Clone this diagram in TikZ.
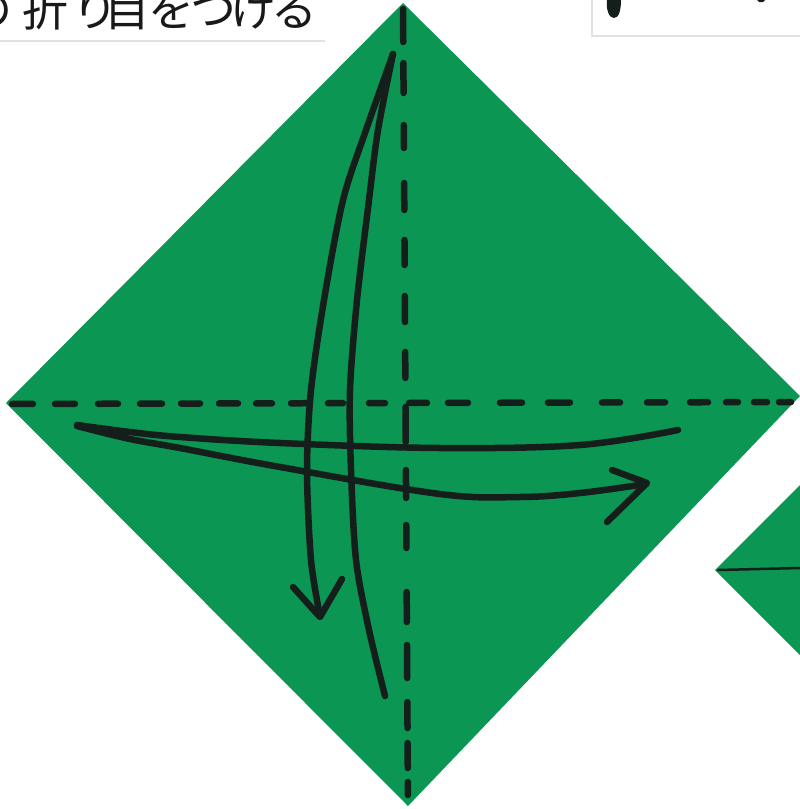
\documentclass[tikz,border=0pt]{standalone}
\usepackage{fontspec}
\newfontfamily\jp{Noto Sans CJK JP}
\definecolor{paper}{RGB}{12,150,84}
\definecolor{ink}{RGB}{20,30,26}
\definecolor{slip}{RGB}{225,225,225}
\tikzset{
  inkstroke/.style={draw=ink, line width=6.5pt, line cap=round, line join=round},
  fold/.style={draw=ink, line width=6.5pt, line cap=round},
  jchar/.style={font=\jp\fontsize{46}{46}\selectfont, text=black!90, anchor=base, inner sep=0pt},
}
\begin{document}
\begin{tikzpicture}[x=1pt,y=-1pt]
\useasboundingbox (0,0) rectangle (800,809);
\clip (0,0) rectangle (800,809);
\fill[white] (0,0) rectangle (800,809);
% paper slips
\draw[slip, line width=1.2pt] (0,41) -- (325,41);
\draw[slip, line width=1.2pt] (592,0) -- (592,36) -- (800,36);
\fill[ink] (607,0) .. controls (606,10) and (609,18) .. (614,18) .. controls (619,18) and (621,10) .. (621,0) -- cycle;
\fill[ink] (757,0) -- (765,0) -- (763,2) -- (759,2) -- cycle;
% heading text
\node[jchar] (c0) at (-10,26) {の};
\node[jchar] (c1) at (45,26) {折};
\node[jchar] (c2) at (95,26) {り};
\node[jchar] (c3) at (127,26) {目};
\node[jchar] (c4) at (171,26) {を};
\node[jchar] (c5) at (213,26) {つ};
\node[jchar] (c6) at (253,26) {け};
\node[jchar] (c7) at (294,26) {る};
% small diamond bottom right
\fill[paper] (715,570) -- (820,465) -- (880,570) -- (820,675) -- cycle;
\draw[draw=ink, line width=2.5pt, line cap=round] (718,570) -- (800,568);
% main diamond
\coordinate (T) at (403,3);
\coordinate (R) at (800,396);
\coordinate (B) at (408,806);
\coordinate (L) at (6,403);
\fill[paper] (T) -- (R) -- (B) -- (L) -- cycle;
% vertical dashed fold
\foreach \a/\b in {9/42,63/93,125/148,183/210,240/265,296/322,352/378,407/442,470/498,525/548,592/622,645/678,702/728,743/768,782/795}
  \draw[fold] ({403+5*\a/806},\a) -- ({403+5*\b/806},\b);
% horizontal dashed fold
\foreach \a/\b in {12/33,55/75,98/118,140/162,181/200,219/238,256/272,291/308,328/343,369/385,409/427,448/468,500/522,548/570,602/620,647/665,690/708,726/738,754/767,779/791}
  \draw[fold] (\a,{404-2*\a/800}) -- (\b,{404-2*\b/800});
% vertical arrow (two strokes)
\draw[inkstroke] plot[smooth, tension=0.5] coordinates {(393,54) (366,130) (343,200) (324,300) (311,390) (307,470) (311,560) (320,616)};
\draw[inkstroke] (293,587) -- (320,617) -- (342,579);
\draw[inkstroke] plot[smooth, tension=0.5] coordinates {(393,54) (378,130) (369,200) (357,300) (350,390) (351,470) (356,560) (369,630) (385,696)};
% horizontal arrow (two strokes)
\draw[inkstroke] plot[smooth, tension=0.6] coordinates {(77,425) (130,432) (180,437) (280,443) (440,448) (580,445) (678,430)};
\draw[inkstroke] plot[smooth, tension=0.6] coordinates {(77,426) (130,439) (180,448) (280,467) (440,494) (520,497) (580,493) (646,484)};
\draw[inkstroke] (612,470) -- (647,483) -- (607,522);
\end{tikzpicture}
\end{document}
